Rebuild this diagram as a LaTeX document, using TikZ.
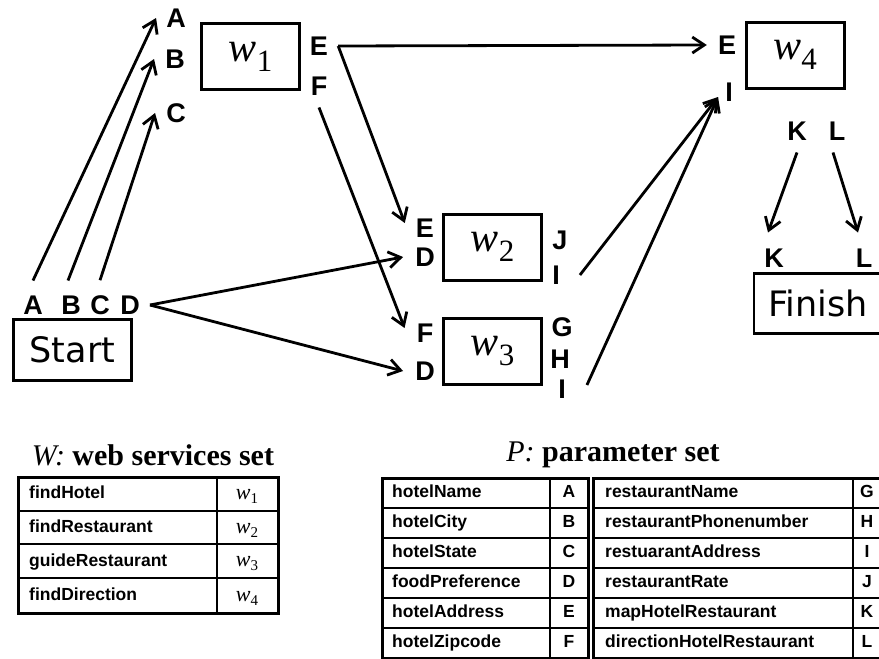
\documentclass[tikz,border=0pt]{standalone}
\usepackage{fontspec}
\usetikzlibrary{positioning, arrows.meta}
\newfontfamily\arialfont{Liberation Sans}
\newfontfamily\timesfont{Liberation Serif}
\newfontfamily\verdanafont{DejaVu Sans}
\newcommand{\wbox}[1]{{\timesfont\fontsize{42}{42}\selectfont\itshape w}\raisebox{-10pt}{\timesfont\fontsize{31}{31}\selectfont #1}}
\newcommand{\wcell}[1]{{\timesfont\fontsize{22}{22}\selectfont\itshape w}\raisebox{-4pt}{\timesfont\fontsize{15}{15}\selectfont #1}}

\begin{document}
\begin{tikzpicture}[x=1pt, y=-1pt,
		lbl/.style={font=\arialfont\bfseries\fontsize{27}{27}\selectfont, inner sep=0pt},
		svc/.style={draw, line width=3pt, minimum width=98pt, minimum height=66pt, inner sep=0pt},
		term/.style={draw, line width=2.5pt, inner sep=0pt, font=\verdanafont\fontsize{35}{35}\selectfont},
		arr/.style={line width=2.8pt, -{Straight Barb[length=12pt, width=16pt]}},
		cell/.style={font=\arialfont\bfseries\fontsize{17.5}{17.5}\selectfont, inner sep=0pt, text height=12.6pt, text depth=3.7pt},
		ttl/.style={font=\timesfont\bfseries\fontsize{30}{30}\selectfont, inner sep=0pt, anchor=base} ]
	\useasboundingbox (0,0) rectangle (879,659);

	% services and terminals
	\node[svc] (w1) at (250.5,56.5) {\wbox{1}};
	\node[svc] (w2) at (492.5,247) {\wbox{2}};
	\node[svc] (w3) at (492.5,351) {\wbox{3}};
	\node[svc] (w4) at (795,55) {\wbox{4}};
	\node[term, minimum width=118pt, minimum height=61pt] (start) at (72.5,350) {Start};
	\node[term, minimum width=128pt, minimum height=60pt] (finish) at (818,303.5) {Finish};

	% parameter labels
	\node[lbl] (sa) at (33,305) {A};
	\node[lbl] (sb) at (71,305) {B};
	\node[lbl] (sc) at (100,305) {C};
	\node[lbl] (sd) at (130,305) {D};
	\node[lbl] (a1) at (176,18) {A};
	\node[lbl] (b1) at (175,59) {B};
	\node[lbl] (c1) at (176,113) {C};
	\node[lbl] (e1) at (319,46) {E};
	\node[lbl] (f1) at (319,86) {F};
	\node[lbl] (e2) at (425,228) {E};
	\node[lbl] (d2) at (425,257) {D};
	\node[lbl] (j2) at (560,240) {J};
	\node[lbl] (i2) at (556,275) {I};
	\node[lbl] (f3) at (425,333) {F};
	\node[lbl] (d3) at (425,371) {D};
	\node[lbl] (g3) at (562,327) {G};
	\node[lbl] (h3) at (560,359) {H};
	\node[lbl] (i3) at (562,389) {I};
	\node[lbl] (e4) at (727,45) {E};
	\node[lbl] (i4) at (729,92) {I};
	\node[lbl] (k4) at (797,131) {K};
	\node[lbl] (l4) at (837,131) {L};
	\node[lbl] (kf) at (774,258) {K};
	\node[lbl] (lf) at (864,258) {L};

	% data flow
	\draw[arr] ([yshift=15pt]sa.north) -- ([xshift=-10pt]a1.west);
	\draw[arr] ([xshift=-3pt,yshift=15pt]sb.north) -- ([xshift=-11pt]b1.west);
	\draw[arr] ([yshift=15pt]sc.north) -- ([xshift=-11pt]c1.west);
	\draw[arr] ([xshift=10pt]sd.east) -- ([xshift=-12pt]d2.west);
	\draw[arr] ([xshift=10pt]sd.east) -- ([xshift=-12pt]d3.west);
	\draw[arr] ([xshift=10pt]e1.east) -- ([xshift=-11pt]e4.west);
	\draw[arr] ([xshift=10pt]e1.east) -- ([xshift=-11pt,yshift=5pt]e2.west);
	\draw[arr] ([yshift=-12pt]f1.south) -- ([xshift=-12pt,yshift=5pt]f3.west);
	\draw[arr] ([xshift=20pt]i2.east) -- ([xshift=-7pt,yshift=-5pt]i4.west);
	\draw[arr] ([xshift=21pt,yshift=4pt]i3.east) -- ([xshift=-7pt,yshift=-5pt]i4.west);
	\draw[arr] ([yshift=-12pt]k4.south) -- ([xshift=-6pt,yshift=16pt]kf.north);
	\draw[arr] ([xshift=-4pt,yshift=-12pt]l4.south) -- ([xshift=-6pt,yshift=16pt]lf.north);

	% W table
	\node[ttl] (wtitle) at (153,465) {{\mdseries\itshape W:} web services set};
	\draw[line width=3pt] (18,477) rectangle (278,613);
	\draw[line width=1.2pt] (217,477) -- (217,613);
	\foreach \y in {511,544,578}
		\draw[line width=1.2pt] (18,\y) -- (278,\y);
	\foreach \name/\i [count=\r] in {findHotel/1, findRestaurant/2, guideRestaurant/3, findDirection/4} {
		\node[cell, anchor=west] (ws\r) at (29,{494+34*(\r-1)}) {\name};
		\node[inner sep=0pt] (wn\r) at (247,{496+34*(\r-1)}) {\wcell{\i}};
	}

	% P tables
	\node[ttl] (ptitle) at (613,461) {{\mdseries\itshape P:} parameter set};
	\draw[line width=3pt] (382,478) rectangle (588,658);
	\draw[line width=1.2pt] (550,478) -- (550,658);
	\draw[line width=3pt] (593,478) rectangle (900,658);
	\draw[line width=1.2pt] (853,478) -- (853,658);
	\foreach \y in {508,538,568,598,628} {
		\draw[line width=1.2pt] (382,\y) -- (588,\y);
		\draw[line width=1.2pt] (593,\y) -- (900,\y);
	}
	\foreach \name/\p [count=\r] in {hotelName/A, hotelCity/B, hotelState/C, foodPreference/D, hotelAddress/E, hotelZipcode/F} {
		\node[cell, anchor=west] (pl\r) at (392,{493+30*(\r-1)}) {\name};
		\node[cell] (plk\r) at (569,{493+30*(\r-1)}) {\p};
	}
	\foreach \name/\p [count=\r] in {restaurantName/G, restaurantPhonenumber/H, restuarantAddress/I, restaurantRate/J, mapHotelRestaurant/K, directionHotelRestaurant/L} {
		\node[cell, anchor=west] (pr\r) at (605,{493+30*(\r-1)}) {\name};
		\node[cell] (prk\r) at (867,{493+30*(\r-1)}) {\p};
	}
\end{tikzpicture}
\end{document}
